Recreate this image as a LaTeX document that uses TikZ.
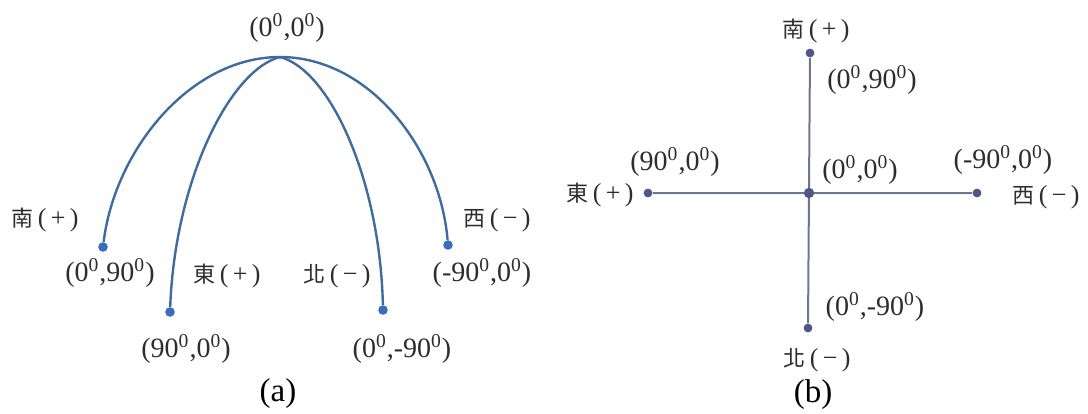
\documentclass[tikz,border=0pt]{standalone}
\usepackage{fontspec}
\setmainfont{Liberation Serif}
\newfontfamily\cjk{Noto Sans CJK TC}
\usepackage{xcolor}
\usetikzlibrary{positioning}
\definecolor{arcA}{RGB}{62,108,158}
\definecolor{dotA}{RGB}{58,108,192}
\definecolor{lineB}{RGB}{112,116,140}
\definecolor{dotB}{RGB}{78,86,138}
\definecolor{txt}{RGB}{45,45,45}
\newcommand{\zsup}{\textsuperscript{0}}
\newcommand{\dirtext}[2]{{\cjk\fontsize{11}{12}\selectfont #1}\,(\,#2\,)}

\begin{document}
\begin{tikzpicture}[x=0.5pt,y=-0.5pt,
  lbl/.style={font=\fontsize{14}{16}\selectfont,text=txt,inner sep=0pt},
  dir/.style={font=\fontsize{13}{15}\selectfont,text=txt,inner sep=0pt},
  capt/.style={font=\fontsize{16.5}{18}\selectfont,inner sep=0pt},
  adot/.style={circle,fill=dotA,inner sep=0pt,minimum size=4.8pt},
  bdot/.style={circle,fill=dotB,inner sep=0pt,minimum size=4.4pt}]
\useasboundingbox (0,0) rectangle (1088,413);

% (a) arcs
\coordinate (top) at (280,57);
\node[lbl] (ltop) at (287,28) {(0\zsup,0\zsup)};
\node[adot] (s) at (103,247) {};
\node[adot] (e) at (170,312) {};
\node[adot] (n) at (383,310) {};
\node[adot] (w) at (448,245) {};
\draw[arcA,line width=1.2pt] (top) .. controls (190,57) and (115,150) .. (s);
\draw[arcA,line width=1.2pt] (top) .. controls (230,70) and (175,180) .. (e);
\draw[arcA,line width=1.2pt] (top) .. controls (330,70) and (380,180) .. (n);
\draw[arcA,line width=1.2pt] (top) .. controls (370,57) and (440,150) .. (w);
\node[lbl] (ls) at (110,273) {(0\zsup,90\zsup)};
\node[lbl] (le) at (186,349) {(90\zsup,0\zsup)};
\node[lbl] (ln) at (402,349) {(0\zsup,-90\zsup)};
\node[lbl] (lw) at (482,273) {(-90\zsup,0\zsup)};
\node[dir] (ds) at (45,220) {\dirtext{南}{+}};
\node[dir] (de) at (227,276) {\dirtext{東}{+}};
\node[dir] (dn) at (337,276) {\dirtext{北}{−}};
\node[dir] (dw) at (497,220) {\dirtext{西}{−}};
\node[capt] (ca) at (278,394) {(a)};

% (b) cross
\node[bdot] (bs) at (810,53) {};
\node[bdot] (bn) at (808,328) {};
\node[bdot] (be) at (648,193) {};
\node[bdot] (bw) at (977,193) {};
\draw[lineB,line width=1pt] (bs) -- (bn) (be) -- (bw);
\node[bdot,minimum size=5.2pt] (bc) at (809,193) {};
\node[lbl] (lbs) at (872,80) {(0\zsup,90\zsup)};
\node[lbl] (lbn) at (875,307) {(0\zsup,-90\zsup)};
\node[lbl] (lbe) at (675,162) {(90\zsup,0\zsup)};
\node[lbl] (lbw) at (1003,160) {(-90\zsup,0\zsup)};
\node[lbl] (lbc) at (860,170) {(0\zsup,0\zsup)};
\node[dir] (dbs) at (816,31) {\dirtext{南}{+}};
\node[dir] (dbn) at (817,360) {\dirtext{北}{−}};
\node[dir] (dbe) at (600,195) {\dirtext{東}{+}};
\node[dir] (dbw) at (1046,197) {\dirtext{西}{−}};
\node[capt] (cb) at (813,395) {(b)};
\end{tikzpicture}
\end{document}
